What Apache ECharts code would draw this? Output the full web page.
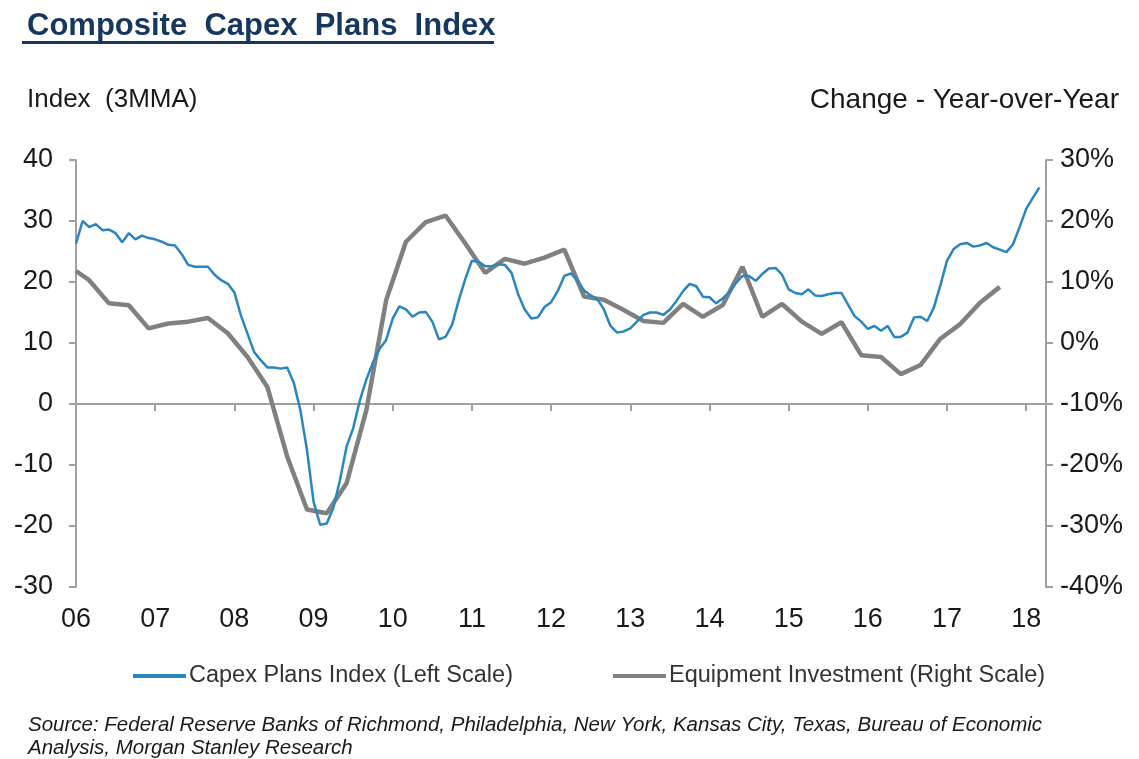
<!DOCTYPE html>
<html>
<head>
<meta charset="utf-8">
<script src="https://cdn.jsdelivr.net/npm/echarts@6/dist/echarts.min.js"></script>
<style>
  html, body { margin: 0; padding: 0; background: #fff; }
  #capexChart { width: 1139px; height: 759px; }
</style>
</head>
<body>
<div id="capexChart"></div>
<script>
// months Jan 2006 .. Apr 2018
const months = [];
for (let y = 2006; y <= 2018; y++) {
  for (let m = 1; m <= 12; m++) {
    if (y === 2018 && m > 4) break;
    months.push(y + '-' + (m < 10 ? '0' + m : m));
  }
}

// Capex Plans Index (3MMA), monthly from Jan 2006
const capexPlans = [
  26.3, 30.0, 29.0, 29.5, 28.5, 28.6, 28.0, 26.5, 28.0, 27.0, 27.6, 27.2,
  27.0, 26.6, 26.1, 26.0, 24.6, 22.8, 22.5, 22.5, 22.5, 21.2, 20.3, 19.7,
  18.3, 14.5, 11.5, 8.5, 7.2, 6.0, 6.0, 5.8, 6.0, 3.5, -1.0, -7.5,
  -16.0, -19.8, -19.6, -17.0, -12.5, -7.0, -4.0, 0.5, 4.0, 6.8, 9.0, 10.5,
  14.0, 16.0, 15.5, 14.3, 15.0, 15.1, 13.5, 10.6, 11.0, 13.0, 17.0, 20.5,
  23.5, 23.3, 22.6, 22.6, 22.9, 22.8, 21.5, 18.0, 15.5, 14.0, 14.2, 15.9,
  16.7, 18.5, 21.0, 21.4, 20.2, 18.6, 17.8, 17.2, 15.5, 12.8, 11.7, 11.9,
  12.4, 13.5, 14.6, 15.0, 15.0, 14.6, 15.5, 16.9, 18.5, 19.7, 19.3, 17.6,
  17.5, 16.5, 17.3, 18.3, 19.8, 21.0, 21.0, 20.2, 21.3, 22.2, 22.3, 21.2,
  18.8, 18.2, 18.0, 18.8, 17.8, 17.7, 18.0, 18.2, 18.2, 16.3, 14.4, 13.5,
  12.3, 12.8, 12.0, 12.8, 11.0, 11.0, 11.7, 14.2, 14.3, 13.6, 15.8, 19.5,
  23.5, 25.4, 26.2, 26.4, 25.8, 26.0, 26.4, 25.7, 25.3, 24.9, 26.2, 29.0,
  32.0, 33.8, 35.5
];

// Equipment investment, % y/y, quarterly (quarter-end months)
const equipDates = [
  '2006-01', '2006-03', '2006-06', '2006-09', '2006-12',
  '2007-03', '2007-06', '2007-09', '2007-12',
  '2008-03', '2008-06', '2008-09', '2008-12',
  '2009-03', '2009-06', '2009-09', '2009-12',
  '2010-03', '2010-06', '2010-09', '2010-12',
  '2011-03', '2011-06', '2011-09', '2011-12',
  '2012-03', '2012-06', '2012-09', '2012-12',
  '2013-03', '2013-06', '2013-09', '2013-12',
  '2014-03', '2014-06', '2014-09', '2014-12',
  '2015-03', '2015-06', '2015-09', '2015-12',
  '2016-03', '2016-06', '2016-09', '2016-12',
  '2017-03', '2017-06', '2017-09'
];
const equipInvest = [
  11.8, 10.3, 6.5, 6.2, 2.4,
  3.2, 3.5, 4.1, 1.6,
  -2.3, -7.2, -18.6, -27.3,
  -27.9, -23.0, -11.0, 7.0,
  16.6, 19.8, 20.9, 16.3,
  11.5, 13.8, 13.0, 14.0,
  15.3, 7.6, 7.1, 5.4,
  3.6, 3.3, 6.4, 4.3,
  6.2, 12.5, 4.3, 6.4,
  3.5, 1.5, 3.4, -2.0,
  -2.3, -5.1, -3.6, 0.7,
  3.1, 6.6, 9.2
];

const leftTicks = { min: -30, max: 40, step: 10 };
const rightTicks = { min: -40, max: 30, step: 10 };

const BLUE = '#2a86bf';
const GREY = '#808080';
const AXIS = '#a0a0a0';
const TEXT = '#1a1a1a';

const myChart = echarts.init(document.getElementById('capexChart'), null, { renderer: 'canvas' });

const isJan = function (idx) { return idx % 12 === 0; };

const option = {
  backgroundColor: '#fff',
  animation: false,
  textStyle: { fontFamily: 'Liberation Sans, Arial, sans-serif' },
  title: [
    {
      text: 'Composite  Capex  Plans  Index',
      left: 22, top: 6,
      textStyle: { fontSize: 31, fontWeight: 'bold', color: '#17375e' }
    },
    {
      text: 'Index  (3MMA)',
      left: 22, top: 82,
      textStyle: { fontSize: 26, fontWeight: 'normal', color: TEXT }
    },
    {
      text: 'Change - Year-over-Year',
      right: 15, top: 81,
      textStyle: { fontSize: 28, fontWeight: 'normal', color: TEXT }
    },
    {
      text: 'Source: Federal Reserve Banks of Richmond, Philadelphia, New York, Kansas City, Texas, Bureau of Economic\nAnalysis, Morgan Stanley Research',
      left: 23, top: 709,
      textStyle: { fontSize: 20.5, fontStyle: 'italic', fontWeight: 'normal', color: TEXT, lineHeight: 23 }
    }
  ],
  graphic: [
    {
      type: 'rect',
      shape: { x: 22, y: 41, width: 472, height: 3 },
      style: { fill: '#17375e' }
    }
  ],
  legend: {
    left: 128, top: 659,
    itemWidth: 53, itemHeight: 4, itemGap: 100,
    icon: 'rect',
    textStyle: { fontSize: 23.5, color: '#333', padding: [0, 0, 0, -2] },
    data: ['Capex Plans Index (Left Scale)', 'Equipment Investment (Right Scale)']
  },
  grid: { left: 76, right: 93, top: 160, bottom: 172, containLabel: false },
  xAxis: [
    {
      type: 'category',
      data: months,
      boundaryGap: false,
      axisLine: { onZero: true, lineStyle: { color: AXIS, width: 2 } },
      axisTick: { show: true, interval: isJan, length: 7, lineStyle: { color: AXIS, width: 2 } },
      axisLabel: { show: false },
      splitLine: { show: false }
    },
    {
      type: 'category',
      data: months,
      boundaryGap: false,
      position: 'bottom',
      axisLine: { show: false, onZero: false },
      axisTick: { show: false },
      axisLabel: {
        interval: isJan,
        margin: 19,
        fontSize: 27,
        color: TEXT,
        formatter: function (v) { return v.slice(2, 4); }
      },
      splitLine: { show: false }
    }
  ],
  yAxis: [
    {
      type: 'value',
      position: 'left',
      min: leftTicks.min, max: leftTicks.max, interval: leftTicks.step,
      axisLine: { show: true, lineStyle: { color: AXIS, width: 2 } },
      axisTick: { show: true, length: 7, lineStyle: { color: AXIS, width: 2 } },
      axisLabel: { fontSize: 27, color: TEXT, margin: 23 },
      splitLine: { show: false }
    },
    {
      type: 'value',
      position: 'right',
      min: rightTicks.min, max: rightTicks.max, interval: rightTicks.step,
      axisLine: { show: true, lineStyle: { color: AXIS, width: 2 } },
      axisTick: { show: true, length: 7, lineStyle: { color: AXIS, width: 2 } },
      axisLabel: { fontSize: 27, color: TEXT, margin: 14, formatter: '{value}%' },
      splitLine: { show: false }
    }
  ],
  series: [
    {
      name: 'Capex Plans Index (Left Scale)',
      type: 'line',
      xAxisIndex: 0, yAxisIndex: 0,
      data: capexPlans,
      symbol: 'none',
      itemStyle: { color: BLUE },
      lineStyle: { color: BLUE, width: 2.5 },
      z: 3
    },
    {
      name: 'Equipment Investment (Right Scale)',
      type: 'line',
      xAxisIndex: 0, yAxisIndex: 1,
      data: equipDates.map(function (d, i) { return [d, equipInvest[i]]; }),
      symbol: 'none',
      itemStyle: { color: GREY },
      lineStyle: { color: GREY, width: 4.5 },
      z: 2
    }
  ]
};

myChart.setOption(option);
</script>
</body>
</html>
